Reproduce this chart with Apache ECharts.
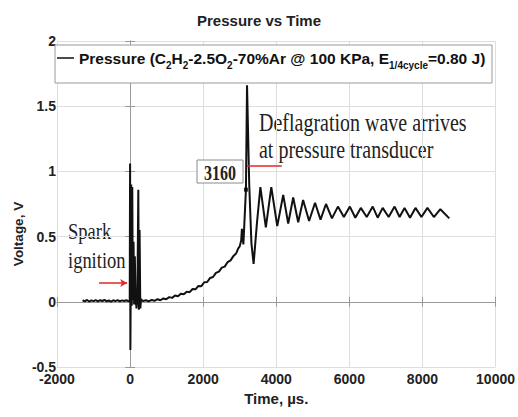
<!DOCTYPE html>
<html>
<head>
<meta charset="utf-8">
<script src="https://cdn.jsdelivr.net/npm/echarts@6/dist/echarts.min.js"></script>
<style>html,body{margin:0;padding:0;background:#fff;}#c{width:518px;height:417px;}</style>
</head>
<body>
<div id="c"></div>
<script>
// time in microseconds
const timeUs = [
  -1300,-1240,-1180,-1120,-1060,-1000,-940,-880,-820,-760,-700,-640,-580,-520,-460,-400,-340,-280,-220,-160,-100,-40,-10,
  0,8,16,30,45,60,75,95,110,130,150,175,200,225,240,260,280,300,
  350,430,510,590,670,750,830,910,990,1070,1150,1230,1310,1390,1470,1550,1630,1710,1790,1870,1950,2030,2110,2190,2270,2350,2430,2510,2590,2670,2750,2830,2900,2960,3000,3040,3060,3100,
  3170,3200,3260,3320,3380,3470,
  3565,3715,3864,4027,4190,4327,4463,4600,4735,4898,5061,5211,5361,5524,5687,5850,6014,6163,6313,6476,6639,6775,6912,7075,7238,7374,7510,7660,7809,7972,8136,8313,8490,8735
];
// voltage in V
const voltage = [
  0.012,0.004,0.014,0.002,0.011,0.005,0.013,0.003,0.012,0.006,0.014,0.004,0.010,0.002,0.012,0.005,0.013,0.003,0.011,0.006,0.012,0.004,0.010,
  1.06,-0.37,0.02,0.90,-0.03,0.88,0.01,0.46,-0.02,0.35,0.03,-0.05,0.05,0.86,-0.06,0.55,-0.05,0.02,
  0.005,0.012,0.003,0.014,0.008,0.020,0.012,0.026,0.020,0.036,0.030,0.048,0.042,0.062,0.058,0.078,0.074,0.098,0.096,0.122,0.120,0.150,0.152,0.183,0.190,0.222,0.232,0.262,0.270,0.305,0.318,0.352,0.370,0.410,0.425,0.470,0.560,0.440,
  0.86,1.66,0.90,0.45,0.29,0.60,
  0.88,0.57,0.88,0.58,0.82,0.60,0.80,0.61,0.78,0.62,0.76,0.63,0.75,0.64,0.73,0.65,0.73,0.645,0.72,0.65,0.73,0.645,0.72,0.65,0.73,0.65,0.72,0.645,0.72,0.65,0.72,0.65,0.71,0.64
];
const xTicks = { min: -2000, max: 10000, interval: 2000 };
const yTicks = { min: -0.5, max: 2, interval: 0.5 };
const tipPoint = [3170, 0.86];
const tipLabel = '3160';
const sparkArrow = [[-850, 0.145], [-80, 0.145]];
const deflagLine = [[3200, 1.04], [4150, 1.04]];
const titleText = 'Pressure vs Time';
const xName = 'Time, \u00b5s.';
const yName = 'Voltage, V';
const seriesName = 'Pressure';

const data = timeUs.map((t, i) => [t, voltage[i]]);
const SANS = "'Liberation Sans',Arial,sans-serif";
const SERIF = "'Liberation Serif','Times New Roman',serif";
const axisGray = '#9a9a9a';

const chart = echarts.init(document.getElementById('c'), null, { renderer: 'svg' });
chart.setOption({
  animation: false,
  backgroundColor: '#fff',
  title: {
    text: titleText, left: 'center', top: 8,
    textStyle: { fontFamily: SANS, fontWeight: 'bold', fontSize: 15, color: '#222' }
  },
  grid: { left: 57, right: 20, top: 41, bottom: 50 },
  legend: {
    data: [{ name: seriesName, icon: 'rect' }],
    left: 57, top: 50, padding: 0, itemWidth: 17, itemHeight: 1.5, z: 10,
    selectedMode: false,
    formatter: () => '{m|Pressure (C}{s|2}{m|H}{s|2}{m|-2.5O}{s|2}{m|-70%Ar @ 100 KPa, E}{s|1/4cycle}{m|=0.80 J)}',
    textStyle: {
      rich: {
        m: { fontFamily: SANS, fontWeight: 'bold', fontSize: 15.5, color: '#111', lineHeight: 24, verticalAlign: 'middle' },
        s: { fontFamily: SANS, fontWeight: 'bold', fontSize: 10, color: '#111', lineHeight: 10, verticalAlign: 'bottom' }
      }
    }
  },
  xAxis: [{
    type: 'value', min: xTicks.min, max: xTicks.max, interval: xTicks.interval,
    name: xName, nameLocation: 'middle', nameGap: 24,
    nameTextStyle: { fontFamily: SANS, fontWeight: 'bold', fontSize: 15, color: '#222' },
    axisLine: { show: true, lineStyle: { color: axisGray, width: 1 } },
    axisTick: { show: true, inside: true, length: 5, lineStyle: { color: axisGray } },
    axisLabel: { fontFamily: SANS, fontWeight: 'bold', fontSize: 14, color: '#222', margin: 5, formatter: v => String(v) },
    splitLine: { show: true, lineStyle: { color: '#dedede', width: 1 } }
  }, {
    type: 'value', position: 'top', min: xTicks.min, max: xTicks.max, interval: xTicks.interval,
    axisLine: { show: true, lineStyle: { color: axisGray, width: 1 } },
    axisTick: { show: true, inside: true, length: 5, lineStyle: { color: axisGray } },
    axisLabel: { show: false }, splitLine: { show: false }
  }],
  yAxis: [{
    type: 'value', min: yTicks.min, max: yTicks.max, interval: yTicks.interval,
    axisLine: { show: true, lineStyle: { color: axisGray, width: 1 } },
    axisTick: { show: true, inside: true, length: 5, lineStyle: { color: axisGray } },
    axisLabel: { fontFamily: SANS, fontWeight: 'bold', fontSize: 14, color: '#222', margin: 1, formatter: v => String(v) },
    splitLine: { show: true, lineStyle: { color: '#dedede', width: 1 } }
  }, {
    type: 'value', position: 'right', min: yTicks.min, max: yTicks.max, interval: yTicks.interval,
    axisLine: { show: true, lineStyle: { color: axisGray, width: 1 } },
    axisTick: { show: true, inside: true, length: 5, lineStyle: { color: axisGray } },
    axisLabel: { show: false }, splitLine: { show: false }
  }],
  series: [{
    name: seriesName, type: 'line', data: data, symbol: 'none',
    xAxisIndex: 0, yAxisIndex: 0,
    lineStyle: { color: '#111', width: 2 }, itemStyle: { color: '#111' },
    markLine: {
      silent: true, animation: false,
      label: { show: false },
      lineStyle: { color: '#e02828', width: 1.5, type: 'solid' },
      data: [
        [{ coord: sparkArrow[0], symbol: 'none' }, { coord: sparkArrow[1], symbol: 'arrow', symbolSize: [6, 7] }],
        [{ coord: deflagLine[0], symbol: 'none' }, { coord: deflagLine[1], symbol: 'none' }]
      ]
    }
  }, {
    name: 'tip', type: 'scatter', data: [tipPoint], symbol: 'rect', symbolSize: 4,
    xAxisIndex: 0, yAxisIndex: 0, itemStyle: { color: '#000' }, z: 5
  }],
  graphic: [
    { type: 'rect', shape: { x: 55, y: 45, width: 437, height: 38 }, style: { fill: '#fff', stroke: '#9a9a9a', lineWidth: 1 }, z: 3 },
    { type: 'text', x: 18, y: 234, rotation: Math.PI / 2, style: { text: yName, font: "bold 13.5px " + SANS, fill: '#222', textAlign: 'center', textVerticalAlign: 'middle' } },
    { type: 'text', x: 68, y: 231, scaleY: 1.23, style: { text: 'Spark', font: "18.5px " + SERIF, fill: '#222', textAlign: 'left', textVerticalAlign: 'middle' } },
    { type: 'text', x: 68, y: 260, scaleY: 1.23, style: { text: 'ignition', font: "18.5px " + SERIF, fill: '#222', textAlign: 'left', textVerticalAlign: 'middle' } },
    { type: 'text', x: 259, y: 122, scaleY: 1.3, style: { text: 'Deflagration wave arrives', font: "20px " + SERIF, fill: '#222', textAlign: 'left', textVerticalAlign: 'middle' } },
    { type: 'text', x: 259, y: 149, scaleY: 1.3, style: { text: 'at pressure transducer', font: "20px " + SERIF, fill: '#222', textAlign: 'left', textVerticalAlign: 'middle' } },
    { type: 'rect', shape: { x: 197, y: 160, width: 46, height: 23 }, style: { fill: '#fff', stroke: '#8a8a8a', lineWidth: 1 }, z: 3 },
    { type: 'text', x: 220, y: 173, scaleY: 1.3, z: 4, style: { text: tipLabel, font: "bold 16px " + SERIF, fill: '#222', textAlign: 'center', textVerticalAlign: 'middle' } }
  ]
});
</script>
</body>
</html>
